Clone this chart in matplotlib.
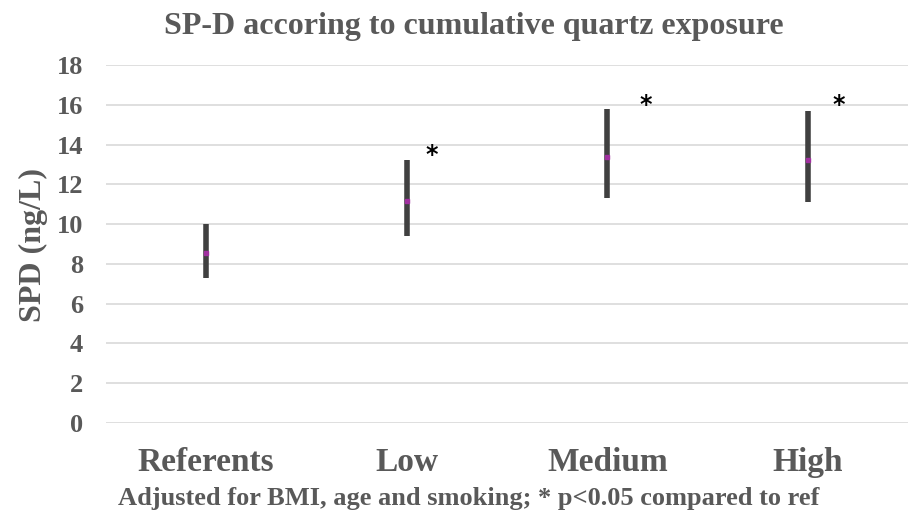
import matplotlib
matplotlib.use('Agg')
import matplotlib.pyplot as plt

categories = ['Referents', 'Low', 'Medium', 'High']
low_vals = [7.3, 9.4, 11.3, 11.1]
high_vals = [10.0, 13.2, 15.8, 15.7]
mean_vals = [8.55, 11.15, 13.35, 13.2]
sig_x = [1.125, 2.19, 3.155]
sig_y = [13.5, 16.0, 16.0]

text_col = '#595959'
font = 'Liberation Serif'

fig = plt.figure(figsize=(9.08, 5.16), dpi=100)
ax = fig.add_axes([106 / 908, 1 - 423 / 516, 802 / 908, (423 - 65) / 516])

x = list(range(len(categories)))
ax.vlines(x, low_vals, high_vals, color='#404040', linewidth=4, zorder=3)
ax.plot(x, mean_vals, linestyle='none', marker='s', markersize=3,
        color='#a0309f', zorder=4)

for sx, sy in zip(sig_x, sig_y):
    ax.text(sx, sy, '*', ha='center', va='center', fontsize=17,
            fontweight='bold', color='black', family='DejaVu Sans')

ax.set_xlim(-0.5, 3.5)
ax.set_ylim(0, 18)
ax.set_yticks(range(0, 19, 2))
ax.set_xticks(x)
ax.set_xticklabels(categories, fontsize=24, fontweight='bold', color=text_col, family=font)
for lbl in ax.get_yticklabels():
    lbl.set_fontsize(19)
    lbl.set_fontweight('bold')
    lbl.set_color(text_col)
    lbl.set_family(font)
ax.tick_params(axis='both', length=0)
ax.tick_params(axis='y', pad=16.5)
ax.tick_params(axis='x', pad=17)
ax.grid(axis='y', color='#d9d9d9', linewidth=1.2)
ax.set_axisbelow(True)
for s in ax.spines.values():
    s.set_visible(False)

fig.text(33 / 908, 1 - 245 / 516, 'SPD (ng/L)', rotation=90, ha='center',
         va='center', fontsize=23, fontweight='bold', color=text_col, family=font)
fig.text(474 / 908, 1 - 34 / 516, 'SP-D accoring to cumulative quartz exposure',
         ha='center', va='baseline', fontsize=23, fontweight='bold',
         color=text_col, family=font)
fig.text(469 / 908, 1 - 505 / 516,
         'Adjusted for BMI, age and smoking; * p<0.05 compared to ref',
         ha='center', va='baseline', fontsize=19, fontweight='bold',
         color=text_col, family=font)

fig.savefig('out.png', dpi=100)
